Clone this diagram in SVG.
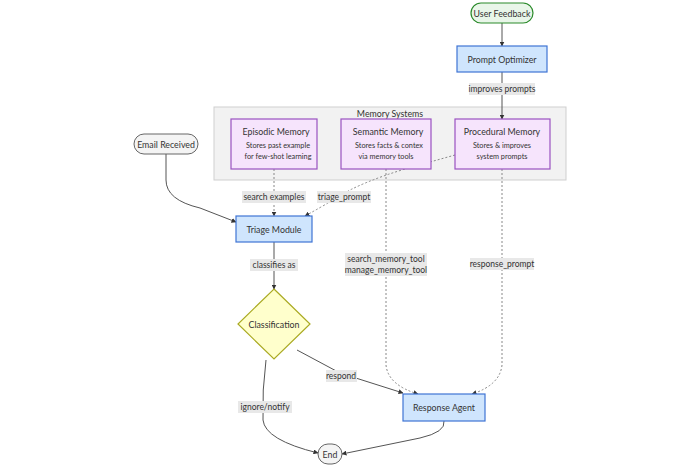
<svg xmlns="http://www.w3.org/2000/svg" width="700" height="467" viewBox="0 0 700 467">
<defs>
<marker id="arr" viewBox="0 0 10 10" refX="9" refY="5" markerWidth="5" markerHeight="5" orient="auto"><path d="M0,0 L10,5 L0,10 z" fill="#333"/></marker>
<clipPath id="cEp"><rect x="232" y="120" width="84" height="48"/></clipPath>
<clipPath id="cSe"><rect x="342" y="120" width="88" height="48"/></clipPath>
</defs>
<style>
text{font-family:Lato,"Open Sans","DejaVu Sans",sans-serif;font-size:8.8px;fill:#333;text-anchor:middle;dominant-baseline:central}
.sm{font-size:7.3px}
.lt{font-size:8.5px}
.proc{fill:#cfe5fd;stroke:#3f74d4;stroke-width:1.2}
.mem{fill:#f6e4fc;stroke:#9a52c0;stroke-width:1.2}
.term{fill:#f4f4f4;stroke:#666;stroke-width:1}
.e{fill:none;stroke:#555;stroke-width:1;marker-end:url(#arr)}
.d{fill:none;stroke:#888;stroke-width:1;stroke-dasharray:2,2;marker-end:url(#arr)}
.lb{fill:#e8e8e8}
</style>
<rect width="700" height="467" fill="#fff"/>
<g id="cluster">
<rect x="214" y="107" width="352" height="73" fill="#f2f2f2" stroke="#cfcfcf"/>
<text x="390" y="113">Memory Systems</text>
</g>
<g id="connectors">
<path class="e" d="M502,23 L502,46"/>
<path class="e" d="M502,72 L502,119"/>
<path class="e" d="M166,154 L166,180 Q166,200 200,208 L236,222"/>
<path class="d" d="M274,169 L274,216"/>
<path class="d" d="M455,155 L430,162 Q380,175 350,190 Q325,205 305,216"/>
<path class="d" d="M386,169 L386,365 Q388,385 418,394"/>
<path class="d" d="M502,169 L502,365 Q500,385 472,394"/>
<path class="e" d="M274,242 L274,289"/>
<path class="e" d="M297,350 L340,373 L403,393"/>
<path class="e" d="M266,360 Q262,390 263,420 Q265,440 318,453"/>
<path class="e" d="M444,421 Q446,432 420,438 L342,454"/>
<rect class="lb" x="469" y="83" width="66" height="12"/><text class="lt" x="502" y="89">improves prompts</text>
<rect class="lb" x="242" y="191" width="64" height="12"/><text class="lt" x="274" y="197">search examples</text>
<rect class="lb" x="317" y="191" width="54" height="12"/><text class="lt" x="344" y="197">triage_prompt</text>
<rect class="lb" x="250" y="259" width="48" height="12"/><text class="lt" x="274" y="265">classifies as</text>
<rect class="lb" x="345" y="253" width="82" height="23"/><text class="lt" x="386" y="259">search_memory_tool</text><text class="lt" x="386" y="270">manage_memory_tool</text>
<rect class="lb" x="470" y="258" width="64" height="12"/><text class="lt" x="502" y="264">response_prompt</text>
<rect class="lb" x="326" y="370" width="31" height="12"/><text class="lt" x="341" y="376">respond</text>
<rect class="lb" x="238" y="401" width="54" height="12"/><text class="lt" x="265" y="407">ignore/notify</text>
</g>
<g id="user-feedback"><rect x="471" y="3" width="62" height="20" rx="10" fill="#e9f6e9" stroke="#2a8a2a" stroke-width="1.2"/><text x="502" y="13">User Feedback</text></g>
<g id="prompt-optimizer"><rect class="proc" x="457" y="46" width="90" height="26"/><text x="502" y="59">Prompt Optimizer</text></g>
<g id="episodic"><rect class="mem" x="231" y="119" width="86" height="50"/><g clip-path="url(#cEp)"><text x="276" y="131">Episodic Memory</text><text class="sm" x="278" y="145">Stores past example</text><text class="sm" x="278" y="156">for few-shot learning</text></g></g>
<g id="semantic"><rect class="mem" x="341" y="119" width="90" height="50"/><g clip-path="url(#cSe)"><text x="388" y="131">Semantic Memory</text><text class="sm" x="389" y="145">Stores facts &amp; contex</text><text class="sm" x="386" y="156">via memory tools</text></g></g>
<g id="procedural"><rect class="mem" x="455" y="119" width="95" height="50"/><text x="502" y="131">Procedural Memory</text><text class="sm" x="502" y="145">Stores &amp; improves</text><text class="sm" x="502" y="156">system prompts</text></g>
<g id="email-received"><rect class="term" x="134" y="134" width="64" height="20" rx="10"/><text x="166" y="144">Email Received</text></g>
<g id="triage"><rect class="proc" x="236" y="216" width="76" height="26"/><text x="274" y="229">Triage Module</text></g>
<g id="classification"><path d="M274,289 L310,324 L274,359 L238,324 Z" fill="#ffffcc" stroke="#aaaa22" stroke-width="1.2"/><text x="274" y="324">Classification</text></g>
<g id="response-agent"><rect class="proc" x="403" y="394" width="82" height="27"/><text x="444" y="407">Response Agent</text></g>
<g id="end"><rect class="term" x="318" y="444" width="24" height="20" rx="10"/><text x="330" y="454">End</text></g>
</svg>
